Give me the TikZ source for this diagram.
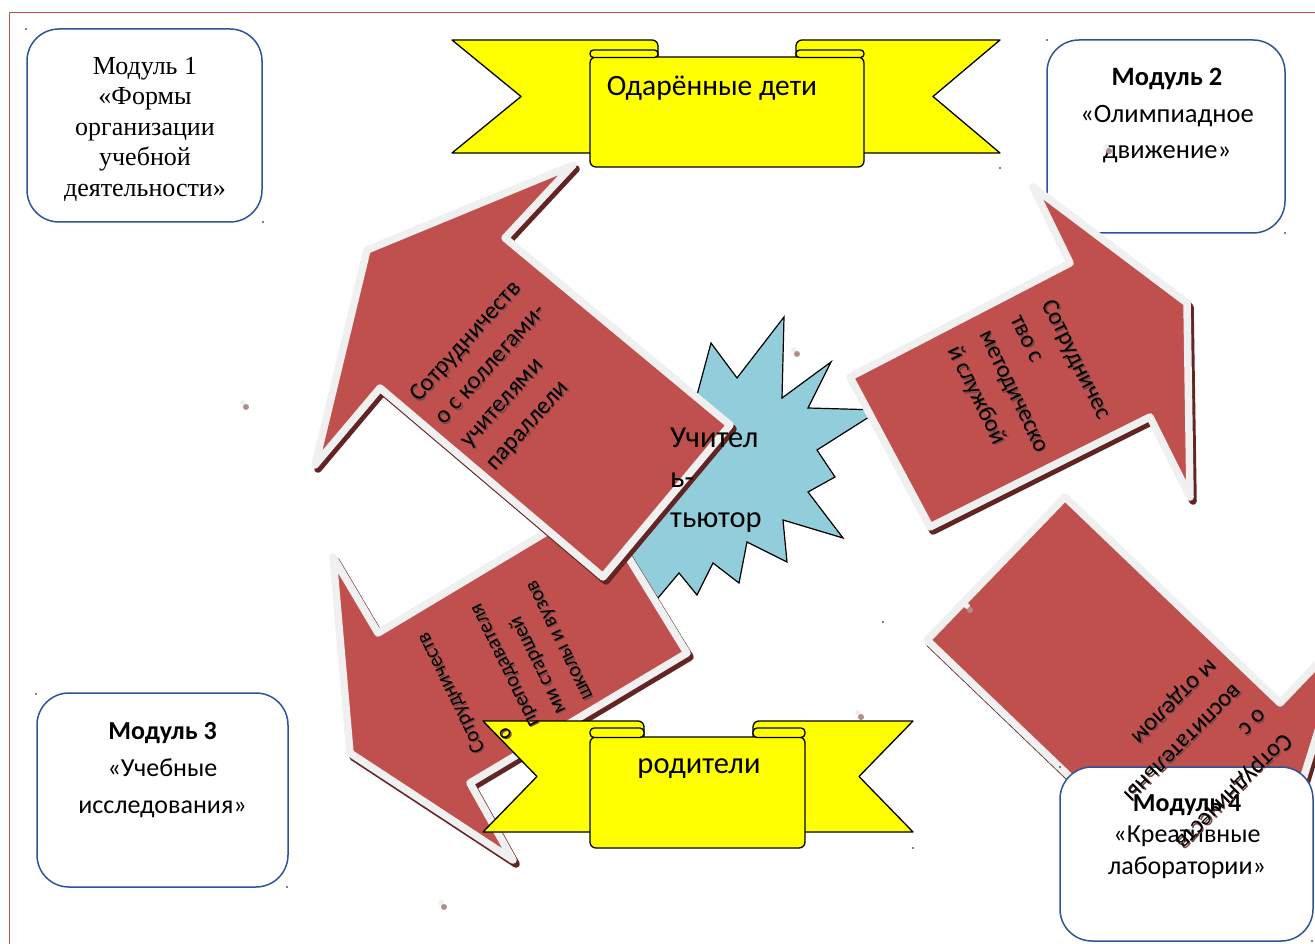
\documentclass[tikz,border=0pt]{standalone}
\usepackage{fontspec}
\setmainfont{Liberation Serif}
\newfontfamily\carl{Carlito}
\definecolor{arrred}{HTML}{C0504D}
\definecolor{shd}{HTML}{632523}
\definecolor{outl}{HTML}{F0F0F0}
\definecolor{starblue}{HTML}{92CDDC}
\definecolor{boxblue}{HTML}{2F5496}
\definecolor{framec}{HTML}{C0504D}
\definecolor{ribyellow}{HTML}{FFFF00}
\definecolor{dotpink}{HTML}{B48C8C}
\newcommand\drawblockarrow[1]{%
  \filldraw[arrowshadow, shift={(3,4)}] #1 -- cycle;
  \filldraw[arrowbody] #1 -- cycle;}
\newcommand\shtext[4]{%
  \node[arrtext,#2,text=shd!85] at ([shift={(1.4,1.4)}]#3) {#4};
  \node[arrtext,#2] (#1) at (#3) {#4};}
\newcommand\pinkdot[2]{%
  \fill[gray!12] (#1-2,#2-2) circle (3pt);
  \fill[dotpink] (#1+1,#2+2) circle (3pt);}
\begin{document}
\begin{tikzpicture}[x=1pt,y=-1pt,
  arrowbody/.style={fill=arrred, draw=outl, line width=7.5pt, line join=round},
  arrowshadow/.style={fill=shd, draw=shd, line width=7.5pt, line join=round},
  ribbon/.style={fill=ribyellow, draw=black, line width=1.3pt, line join=round},
  modbox/.style={draw=boxblue, line width=1.5pt, rounded corners=32pt, fill=white, inner sep=0pt},
  arrtext/.style={align=left, inner sep=0pt},
  modtext/.style={align=center, inner sep=0pt},
  tinydot/.style={fill=black}]
\useasboundingbox (0,0) rectangle (1315,944);
\fill[white] (0,0) rectangle (1315,944);
% page frame
\draw[framec, line width=1.2pt] (1315,12.5) -- (9.5,12.5) -- (9.5,944);

% module boxes 1-3
\node[modbox, minimum width=235pt, minimum height=193pt] (box1) at (144.5,125.5) {};
\node[modbox, minimum width=238pt, minimum height=193pt] (box2) at (1166,136.5) {};
\node[modbox, minimum width=251pt, minimum height=194pt] (box3) at (162.5,790) {};

% central star
\filldraw[fill=starblue, draw=black, line width=1.2pt, line join=miter]
 (784,317) -- (782,398) -- (831,362) -- (808,408) -- (880,410) -- (817,450) --
 (835,477) -- (808,492) -- (843,538) -- (783,520) -- (787,562) -- (747,542) --
 (739,583) -- (713,563) -- (697,595) -- (679,573) -- (658,598) -- (645,585) --
 (620,560) -- (600,520) -- (640,470) -- (680,420) -- (693,410) -- (711,343) --
 (737,378) -- cycle;

% arrows
\drawblockarrow{(595,503) -- (378,633) -- (333,557) -- (350,753) -- (513,860) -- (470,783) -- (687,653)}
\drawblockarrow{(730,425) -- (505,238) -- (573,165) -- (367,250) -- (315,465) -- (380,388) -- (603,577)}
\drawblockarrow{(850,377) -- (1070,263) -- (1033,187) -- (1187,303) -- (1190,497) -- (1150,417) -- (930,527)}
\drawblockarrow{(1065,497) -- (1280,703) -- (1349,631) -- (1283,844) -- (1073,918) -- (1142,846) -- (927,640)}

% module box 4
\node[modbox, minimum width=253pt, minimum height=174pt] (box4) at (1186.5,854) {};

% top ribbon
\filldraw[ribbon] (452,40) [rounded corners=6]-- (658,40) [sharp corners]-- (658,153) -- (452,153) -- (521,96.5) -- cycle;
\filldraw[ribbon] (1000,40) [rounded corners=6]-- (796,40) [sharp corners]-- (796,153) -- (1000,153) -- (933,96.5) -- cycle;
\filldraw[ribbon, rounded corners=6] (590,57) rectangle (864,167);
\filldraw[ribbon, rounded corners=3.5] (590,50) rectangle (658,57.5);
\filldraw[ribbon, rounded corners=3.5] (796,50) rectangle (864,57.5);
\node[font=\carl\fontsize{29.5}{34}\selectfont, inner sep=0pt] (top) at (712,88) {Одарённые дети};

% bottom ribbon
\filldraw[ribbon] (483,721) [rounded corners=6]-- (644,721) [sharp corners]-- (644,832) -- (483,832) -- (537,776.5) -- cycle;
\filldraw[ribbon] (913,721) [rounded corners=6]-- (753,721) [sharp corners]-- (753,832) -- (913,832) -- (859,776.5) -- cycle;
\filldraw[ribbon, rounded corners=6] (590,737) rectangle (805,848);
\filldraw[ribbon, rounded corners=4] (590,728) rectangle (644,737.5);
\filldraw[ribbon, rounded corners=4] (753,728) rectangle (805,737.5);
\node[font=\carl\fontsize{30.5}{34}\selectfont, inner sep=0pt] (bottom) at (699,769) {родители};

% module texts
\node[modtext, font=\fontsize{26}{30.5}\selectfont] (t1) at (145,129)
 {Модуль 1\\«Формы\\организации\\учебной\\деятельности»};
\node[modtext, font=\carl\fontsize{26.5}{36.5}\selectfont] (t2) at (1167,115.5)
 {\textbf{Модуль 2}\\«Олимпиадное\\движение»};
\node[modtext, font=\carl\fontsize{26}{37}\selectfont] (t3) at (162.5,770)
 {\textbf{Модуль 3}\\«Учебные\\исследования»};
\node[modtext, font=\carl\fontsize{26}{31.5}\selectfont] (t4) at (1187,836.5)
 {\textbf{Модуль 4}\\«Креативные\\лаборатории»};

% arrow texts
\shtext{a1}{rotate=48, font=\carl\fontsize{24.5}{34}\selectfont}{504,376}{Сотрудничеств\\о с коллегами-\\учителями\\параллели}
\shtext{a2}{rotate=-64, font=\carl\fontsize{24}{35}\selectfont}{1029,384}{Сотрудничес\\тво с\\методическо\\й службой}
\shtext{a3}{rotate=116, font=\carl\fontsize{21}{30}\selectfont}{505,665}{Сотрудничеств\\о\\преподавателя\\ми старшей\\школы и вузов}
\shtext{a4}{rotate=-135, font=\carl\fontsize{24.5}{35}\selectfont}{1195,755}{Сотрудничеств\\о с\\воспитательны\\м отделом}

% star text
\node[align=left, anchor=west, inner sep=0pt, font=\carl\fontsize{30.5}{40}\selectfont] (star) at (670,480)
 {Учител\\ь-\\тьютор};

% small dots
\foreach \p in {(26,29),(263,222),(1047,40),(1285,233),(36,694),(287,887),(1060,767),(1312,941),(1000,168),(913,848),(883,622)}
  \fill[tinydot] \p circle (0.9pt);
\pinkdot{245}{405}
\pinkdot{796}{352}
\pinkdot{969}{608}
\pinkdot{860}{715}
\pinkdot{443}{905}
\pinkdot{1108}{149}
\end{tikzpicture}
\end{document}
